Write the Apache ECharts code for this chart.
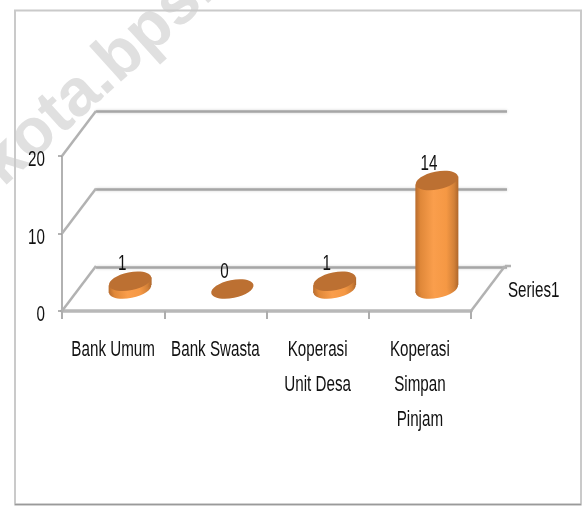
<!DOCTYPE html>
<html>
<head>
<meta charset="utf-8">
<style>
html, body { margin: 0; padding: 0; background: #fff; }
#chart { width: 583px; height: 506px; }
</style>
<script src="https://cdn.jsdelivr.net/npm/echarts@6/dist/echarts.min.js"></script>
</head>
<body>
<div id="chart"></div>
<script>
var categories = ['Bank Umum', 'Bank Swasta', 'Koperasi\nUnit Desa', 'Koperasi\nSimpan\nPinjam'];
var values = [1, 0, 1, 14];
var wallTicks = [0, 10, 20];
var seriesName = 'Series1';
var watermark = 'kota.bps.';

var font = '22px "Liberation Sans", sans-serif';
var squeeze = 0.69; // the original text is stretched tall, axis labels can't do that so custom text
var gridColor = '#a6a6a6';
var depth = [34, -45];

var chart = echarts.init(document.getElementById('chart'));

function label(text, x, y, align, verticalAlign) {
  return {
    type: 'text',
    x: x,
    y: y,
    scaleX: squeeze,
    style: {
      text: text,
      font: font,
      fill: '#111',
      align: align,
      verticalAlign: verticalAlign,
      lineHeight: 35
    }
  };
}

// side walls, y labels and floor edge, same depth offset as the back grid
function renderWalls(params, api) {
  var v = api.value(0);
  var halfBand = api.size([1, 0])[0] / 2;
  var p = api.coord([0, v]);
  var x0 = p[0] - halfBand;
  var style = { stroke: '#b2b2b2', lineWidth: 2.5 };
  var children = [
    {
      type: 'line',
      shape: { x1: x0, y1: p[1], x2: x0 + depth[0], y2: p[1] + depth[1] },
      style: style
    },
    label(String(v), x0 - 17, p[1] + 4, 'right', 'middle')
  ];
  if (v === 0) {
    var right = api.coord([categories.length - 1, 0])[0] + halfBand;
    children.push({
      type: 'line',
      shape: { x1: right, y1: p[1], x2: right + depth[0], y2: p[1] + depth[1] },
      style: style
    });
    // small tail of the back floor line
    children.push({
      type: 'line',
      shape: { x1: right + depth[0], y1: p[1] + depth[1], x2: right + depth[0] + 6, y2: p[1] + depth[1] },
      style: style
    });
    children.push(label(seriesName, right + depth[0] + 3, p[1] - 20, 'left', 'middle'));
  }
  return { type: 'group', children: children };
}

function renderCylinder(params, api) {
  var base = api.coord([api.value(0), 0]);
  var top = api.coord([api.value(0), api.value(1)]);
  // bars stand halfway along the floor depth
  var cx = base[0] + depth[0] / 2;
  var yBase = base[1] + depth[1] / 2 + 0.5;
  var yTop = top[1] + depth[1] / 2 + 0.5;
  var rx = 21.5, ry = 9, tilt = 0.2, lean = 4;
  var side = new echarts.graphic.LinearGradient(0, 0, 1, 0, [
    { offset: 0, color: '#b86c2e' },
    { offset: 0.12, color: '#e08839' },
    { offset: 0.42, color: '#fa9e4c' },
    { offset: 0.72, color: '#f59844' },
    { offset: 0.9, color: '#d38138' },
    { offset: 1, color: '#ae672c' }
  ]);
  var children = [];
  if (api.value(1) > 0) {
    children.push({
      type: 'ellipse',
      shape: { cx: 0, cy: 0, rx: rx, ry: ry },
      x: cx, y: yBase, rotation: tilt,
      style: { fill: side }
    });
    children.push({
      type: 'polygon',
      shape: { points: [
        [cx - rx, yTop + lean], [cx + rx, yTop - lean],
        [cx + rx, yBase - lean], [cx - rx, yBase + lean]
      ] },
      style: { fill: side }
    });
  }
  children.push({
    type: 'ellipse',
    shape: { cx: 0, cy: 0, rx: rx, ry: ry },
    x: cx, y: yTop, rotation: tilt,
    style: { fill: '#bc7032' }
  });
  children.push(label(String(api.value(1)), cx - 8, yTop - 17, 'center', 'middle'));
  children.push(label(categories[params.dataIndex], base[0], base[1] + 21, 'center', 'top'));
  return { type: 'group', children: children };
}

chart.setOption({
  animation: false,
  backgroundColor: '#fff',
  graphic: [
    {
      type: 'text',
      z: -1,
      x: -9,
      y: 174,
      rotation: 0.733,
      style: {
        text: watermark,
        font: 'bold 66px "Liberation Sans", sans-serif',
        fill: '#e0e0e0',
        align: 'left',
        verticalAlign: 'middle'
      }
    },
    {
      type: 'rect',
      z: -1,
      shape: { x: 15, y: 10.5, width: 566, height: 494 },
      style: { fill: 'none', stroke: '#cacaca', lineWidth: 2 }
    },
    {
      type: 'line',
      z: -1,
      shape: { x1: 15, y1: 504.5, x2: 581, y2: 504.5 },
      style: { stroke: '#9a9a9a', lineWidth: 1.5 }
    }
  ],
  grid: [
    { left: 62, top: 156, width: 409, height: 155 },
    { left: 96, top: 111, width: 411, height: 156 }
  ],
  xAxis: [
    {
      type: 'category',
      gridIndex: 0,
      data: categories,
      axisLine: { lineStyle: { color: '#b8b8b8', width: 3.5 } },
      axisTick: { show: true, length: 8, lineStyle: { color: '#adadad', width: 2 } },
      axisLabel: { show: false }
    },
    { type: 'category', gridIndex: 1, data: categories, show: false }
  ],
  yAxis: [
    {
      type: 'value',
      gridIndex: 0,
      min: 0,
      max: 20,
      interval: 10,
      axisLine: { show: true, lineStyle: { color: '#b2b2b2', width: 2 } },
      axisTick: { show: true, length: 4, lineStyle: { color: '#9a9a9a', width: 1.5 } },
      axisLabel: { show: false },
      splitLine: { show: false }
    },
    {
      type: 'value',
      gridIndex: 1,
      min: 0,
      max: 20,
      interval: 10,
      axisLine: { show: false },
      axisTick: { show: false },
      axisLabel: { show: false },
      splitLine: { show: true, lineStyle: { color: gridColor, width: 2.5, shadowColor: '#cfcfcf', shadowBlur: 3 } }
    }
  ],
  series: [
    {
      type: 'custom',
      name: 'walls',
      xAxisIndex: 0,
      yAxisIndex: 0,
      z: 1,
      silent: true,
      renderItem: renderWalls,
      encode: { y: 0 },
      data: wallTicks.map(function (v) { return [v]; })
    },
    {
      type: 'custom',
      name: seriesName,
      xAxisIndex: 0,
      yAxisIndex: 0,
      z: 3,
      renderItem: renderCylinder,
      encode: { x: 0, y: 1 },
      data: values.map(function (v, i) { return [i, v]; })
    }
  ]
});
</script>
</body>
</html>
